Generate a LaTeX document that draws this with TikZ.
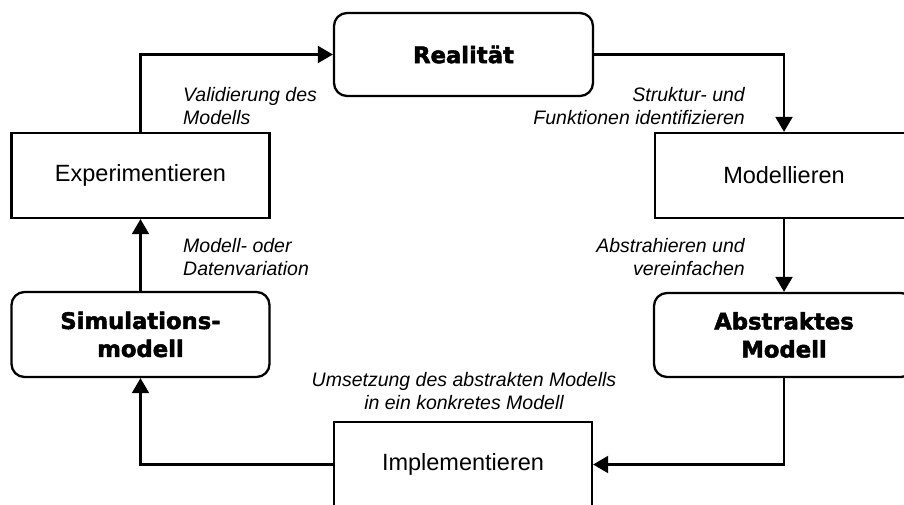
\documentclass[tikz,border=0pt]{standalone}
\usepackage{fontspec}
\setmainfont{Liberation Sans}
\newfontfamily\heavyfont{DejaVu Sans}[BoldFeatures={FakeBold=2.2}]
\usetikzlibrary{arrows.meta}

\begin{document}
\begin{tikzpicture}[x=1pt, y=-1pt,
  box/.style={draw, line width=2.3pt, inner sep=0pt, minimum width=258pt, minimum height=85pt,
    font=\fontsize{23.5}{27}\selectfont, align=center},
  roundbox/.style={box, rounded corners=13pt,
    font=\heavyfont\bfseries\fontsize{22.7}{28}\selectfont},
  link/.style={line width=2.1pt, -{Triangle[length=15pt, width=17pt]}},
  note/.style={font=\itshape\fontsize{19.5}{22.5}\selectfont, inner sep=0pt}]

  \useasboundingbox (0,0) rectangle (904,505);
  \clip (0,0) rectangle (904,505);

  % the six stages of the cycle
  \node[roundbox, minimum width=259pt, minimum height=83pt] (real) at (463.5,54.5) {Realität};
  \node[box] (modl) at (784,175.5) {Modellieren};
  \node[roundbox, minimum width=260pt, minimum height=84pt] (abst) at (784,335) {Abstraktes\\Modell};
  \node[box] (impl) at (463,464.5) {Implementieren};
  \node[roundbox] (simu) at (140.5,334.5) {Simulations-\\modell};
  \node[box] (expe) at (140.5,175.5) {Experimentieren};

  % connectors
  \draw[link] (expe.north) |- (real.west);
  \draw[link] (real.east) -| (modl.north);
  \draw[link] (modl.south) -- (abst.north);
  \draw[link] (abst.south) |- (impl.east);
  \draw[link] (impl.west) -| (simu.south);
  \draw[link] (simu.north) -- (expe.south);

  % step descriptions
  \node[note, anchor=west, align=left] (n1) at (183,106) {Validierung des\\Modells};
  \node[note, anchor=east, align=right] (n2) at (745,106) {Struktur- und\\Funktionen identifizieren};
  \node[note, anchor=west, align=left] (n3) at (183,257) {Modell- oder\\Datenvariation};
  \node[note, anchor=east, align=right] (n4) at (745,257) {Abstrahieren und\\vereinfachen};
  \node[note, align=center] (n5) at (464,391) {Umsetzung des abstrakten Modells\\in ein konkretes Modell};
\end{tikzpicture}
\end{document}
